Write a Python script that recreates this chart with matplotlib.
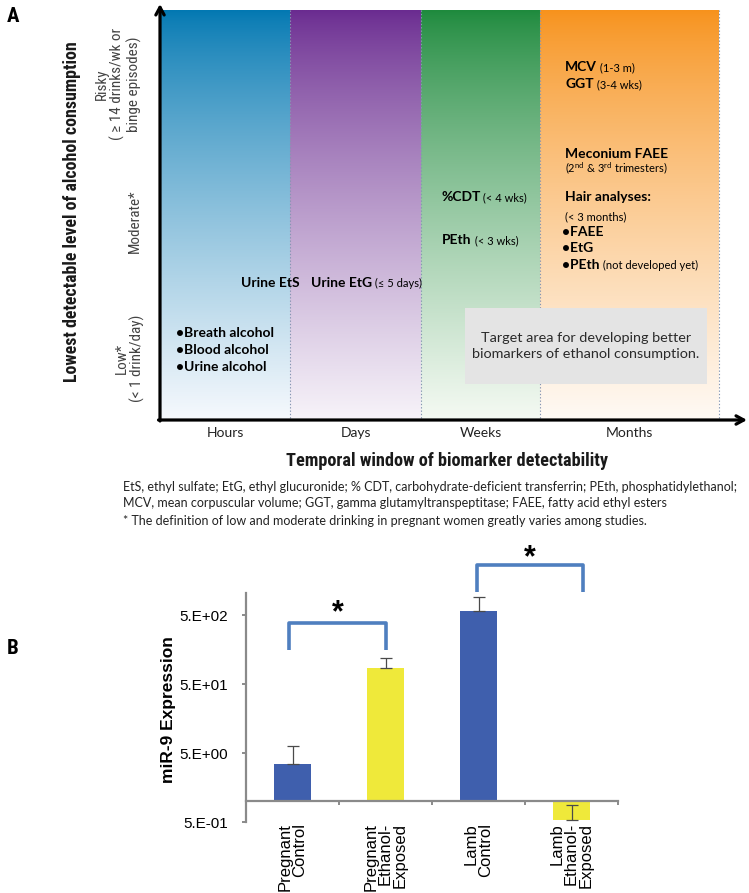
import numpy as np
import matplotlib
matplotlib.use('Agg')
import matplotlib.pyplot as plt
from matplotlib import font_manager
from matplotlib.colors import to_rgb
from matplotlib.ticker import NullLocator
from matplotlib.transforms import blended_transform_factory

# ---------------- data ----------------
# Panel A: detection windows and biomarkers
windows = ['Hours', 'Days', 'Weeks', 'Months']
levels_low = 'Low*\n(< 1 drink/day)'
levels_mod = 'Moderate*'
levels_risky = 'Risky\n( \u2265 14 drinks/wk or\nbinge episodes)'
hours_markers = ['\u2022Breath alcohol', '\u2022Blood alcohol', '\u2022Urine alcohol']
hair_markers = ['\u2022FAEE', '\u2022EtG']
caption = ['EtS, ethyl sulfate; EtG, ethyl glucuronide; % CDT, carbohydrate-deficient transferrin; PEth, phosphatidylethanol;',
           'MCV, mean corpuscular volume; GGT, gamma glutamyltranspeptitase; FAEE, fatty acid ethyl esters',
           '* The definition of low and moderate drinking in pregnant women greatly varies among studies.']

# Panel B: miR-9 expression
groups = ['Pregnant\nControl', 'Pregnant\nEthanol-\nExposed', 'Lamb\nControl', 'Lamb\nEthanol-\nExposed']
mir9 = [3.5, 85, 570, 0.53]
mir9_err = [2.8, 34, 340, 0.35]
ytick_vals = [0.5, 5, 50, 500]
ytick_labels = ['5.E-01', '5.E+00', '5.E+01', '5.E+02']
sig_pairs = [(0, 1), (2, 3)]

# ---------------- style ----------------
W, H = 749, 893
names = {f.name for f in font_manager.fontManager.ttflist}
COND = next((n for n in ['Liberation Sans Narrow', 'Roboto Condensed', 'Roboto'] if n in names),
            'DejaVu Sans')
CAL = ['Lato', 'DejaVu Sans']
ARIAL = ['Liberation Sans', 'DejaVu Sans']
plt.rcParams['mathtext.fontset'] = 'custom'
plt.rcParams['mathtext.rm'] = 'Lato'
plt.rcParams['mathtext.bf'] = 'Lato:bold'

fig = plt.figure(figsize=(W / 100, H / 100), dpi=100)
ax0 = fig.add_axes([0, 0, 1, 1])
ax0.axis('off')
R = fig.canvas.get_renderer()


def fit(t, target, dim='w'):
    bb = t.get_window_extent(R)
    cur = bb.width if dim == 'w' else bb.height
    t.set_fontsize(t.get_fontsize() * target / cur)
    return t


def rich(x, y, parts, color='black'):
    prev = None
    for s, w, sz in parts:
        if prev is None:
            prev = ax0.text(x, y, s, fontweight=w, fontsize=sz, family=CAL,
                            va='baseline', ha='left', color=color)
        else:
            prev = ax0.annotate(s, xy=(1, 0), xycoords=prev, fontweight=w, fontsize=sz,
                                family=CAL, va='bottom', ha='left', color=color)
    return prev


# ---------------- panel A ----------------
edges = [160, 290, 421, 540, 719]
top_y, base_y = 10, 420
tops = ['#0278b2', '#6a2b90', '#1e8a3d', '#f7921c']
bots = ['#f6f9fd', '#f7f3f9', '#f5faf3', '#fffaf5']
t = np.linspace(0, 1, 256)[:, None] ** 0.8
for i in range(4):
    c0, c1 = np.array(to_rgb(tops[i])), np.array(to_rgb(bots[i]))
    img = (c0 * (1 - t) + c1 * t).reshape(256, 1, 3)
    ax0.imshow(img, extent=(edges[i], edges[i + 1], base_y, top_y), aspect='auto',
               origin='upper', interpolation='bilinear', zorder=0)
for xe in edges[1:]:
    ax0.plot([xe, xe], [top_y, base_y], ls=(0, (1.2, 1.8)), color='#8596b2', lw=0.8, zorder=1)

# target box
ax0.add_patch(plt.Rectangle((465, 308), 242, 76, facecolor='#e4e4e4', edgecolor='none', zorder=2))
tt = ax0.text(586, 346, 'Target area for developing better\nbiomarkers of ethanol consumption.',
              ha='center', va='center', family=CAL, fontsize=10, color='#2a2a2a', zorder=3,
              linespacing=1.3)
fit(tt, 228)

# axes arrows
ax0.annotate('', xy=(160, 4), xytext=(160, 421),
             arrowprops=dict(arrowstyle='->,head_length=0.55,head_width=0.3', lw=2.3,
                             color='black', shrinkA=0, shrinkB=0), zorder=5)
ax0.annotate('', xy=(747, 420), xytext=(158.5, 420),
             arrowprops=dict(arrowstyle='->,head_length=0.55,head_width=0.3', lw=2.3,
                             color='black', shrinkA=0, shrinkB=0), zorder=5)

# window labels
for i, name in enumerate(windows):
    ax0.text((edges[i] + edges[i + 1]) / 2, 433, name, ha='center', va='center',
             family=CAL, fontsize=10, color='#222222')

# biomarker texts
ref = ax0.text(176, 337, hours_markers[0], family=CAL, fontweight='bold', fontsize=10,
               va='baseline', ha='left')
fit(ref, 98)
B = ref.get_fontsize()
S = B * 0.8
for k, s in enumerate(hours_markers[1:]):
    ax0.text(176, 354 + 17 * k, s, family=CAL, fontweight='bold', fontsize=B,
             va='baseline', ha='left')
rich(241, 287, [('Urine EtS', 'bold', B)])
rich(311, 287, [('Urine EtG', 'bold', B), (' (\u2264 5 days)', 'normal', S)])
rich(441, 201, [('%CDT', 'bold', B), (' (< 4 wks)', 'normal', S)])
rich(442, 244, [('PEth', 'bold', B), (' (< 3 wks)', 'normal', S)])
rich(565, 71, [('MCV', 'bold', B), (' (1-3 m)', 'normal', S)])
rich(565, 88, [('GGT', 'bold', B), (' (3-4 wks)', 'normal', S)])
rich(565, 158, [('Meconium FAEE', 'bold', B)])
rich(565, 172, [('(2$^{\\mathrm{nd}}$ & 3$^{\\mathrm{rd}}$ trimesters)', 'normal', S)])
rich(565, 201, [('Hair analyses:', 'bold', B)])
rich(565, 220, [('(< 3 months)', 'normal', S)])
rich(562, 236, [(hair_markers[0], 'bold', B)])
rich(562, 252, [(hair_markers[1], 'bold', B)])
rich(562, 269, [('\u2022PEth', 'bold', B), (' (not developed yet)', 'normal', S)])

# axis titles
yl = ax0.text(72, 212, 'Lowest detectable level of alcohol consumption', rotation=90,
              ha='center', va='center', family=COND, fontweight='bold', fontsize=12,
              color='#1a1a1a')
fit(yl, 341, 'h')
xl = ax0.text(447, 461, 'Temporal window of biomarker detectability', ha='center', va='center',
              family=COND, fontweight='bold', fontsize=12, color='#1a1a1a')
fit(xl, 322)

# level labels
r1 = ax0.text(118, 84, levels_risky, rotation=90, ha='center', va='center', family=COND,
              fontsize=9, color='#444444', linespacing=1.1)
fit(r1, 112, 'h')
m1 = ax0.text(135, 221, levels_mod, rotation=90, ha='center', va='center', family=COND,
              fontsize=r1.get_fontsize(), color='#444444')
l1 = ax0.text(130, 358, levels_low, rotation=90, ha='center', va='center', family=COND,
              fontsize=r1.get_fontsize(), color='#444444', linespacing=1.1)

# caption
c0 = ax0.text(123, 487, caption[0], family=CAL, fontsize=7, va='center', ha='left', color='#222222')
fit(c0, 614)
ax0.text(123, 503, caption[1], family=CAL, fontsize=c0.get_fontsize(), va='center', ha='left', color='#222222')
ax0.text(123, 521, caption[2], family=CAL, fontsize=c0.get_fontsize(), va='center', ha='left', color='#222222')

# panel letters
ax0.text(13, 17, 'A', family=COND, fontweight='bold', fontsize=15, va='center', ha='center')
ax0.text(13, 648, 'B', family=COND, fontweight='bold', fontsize=15, va='center', ha='center')
ax0.set_xlim(0, W)
ax0.set_ylim(H, 0)

# ---------------- panel B ----------------
axB = fig.add_axes([246 / W, 1 - 822 / H, (618 - 246) / W, (822 - 593) / H])
axB.set_yscale('log')
axB.set_xlim(-0.5, 3.5)
axB.set_ylim(0.5, 1042)
x = np.arange(len(groups))
colors = ['#3f5fad', '#efe93a', '#3f5fad', '#efe93a']
vals = np.array(mir9)
axB.bar(x, vals - 1, bottom=1, width=0.4, color=colors, zorder=2)
axB.errorbar(x, vals, yerr=[np.zeros(len(vals)), mir9_err], fmt='none', ecolor='#4a4a4a',
             elinewidth=0.9, capsize=4, capthick=0.9, zorder=3)
for side in ['top', 'right']:
    axB.spines[side].set_visible(False)
axB.spines['left'].set_color('#8a8a8a')
axB.spines['left'].set_linewidth(1.6)
axB.spines['bottom'].set_color('#8a8a8a')
axB.spines['bottom'].set_linewidth(1.6)
axB.spines['bottom'].set_position(('data', 1))
axB.set_yticks(ytick_vals)
axB.set_yticklabels(ytick_labels, family=ARIAL, fontsize=11)
axB.yaxis.set_minor_locator(NullLocator())
axB.set_xticks([0.5, 1.5, 2.5, 3.5])
axB.set_xticklabels([])
axB.tick_params(axis='both', colors='#8a8a8a', length=3, width=1.4, direction='out')
axB.tick_params(axis='y', labelcolor='black', pad=10)
axB.set_ylabel('miR-9 Expression', family=ARIAL, fontweight='bold', fontsize=12.5)
axB.yaxis.set_label_coords((176 - 246) / (618 - 246), 0.49)
trans = blended_transform_factory(axB.transData, axB.transAxes)
for i, g in enumerate(groups):
    axB.text(i, -0.005, g, transform=trans, rotation=90, ha='center', va='top',
             multialignment='right', family=ARIAL, fontsize=12, linespacing=0.95)

# significance brackets
brackets = [((-0.04, 1.0), 155, 383, (0.49, 409)), ((1.98, 3.12), 1077, 2650, (2.55, 2566))]
for (pair, (xr, lo, hi, star)) in zip(sig_pairs, brackets):
    axB.plot([xr[0], xr[0], xr[1], xr[1]], [lo, hi, hi, lo], color='#4f7fbf', lw=2.6,
             solid_joinstyle='round', solid_capstyle='butt', clip_on=False, zorder=4)
    axB.text(star[0], star[1], '*', ha='center', va='baseline', family=ARIAL,
             fontweight='bold', fontsize=22, clip_on=False)

fig.savefig('out.png', dpi=100)
